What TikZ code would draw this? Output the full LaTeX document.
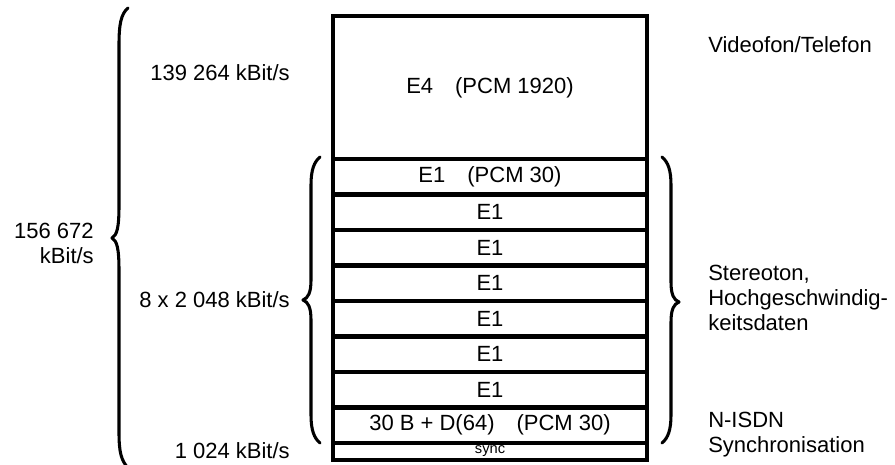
\documentclass[tikz,border=0pt]{standalone}
\usepackage{fontspec}
\setmainfont{Liberation Sans}
\begin{document}
\begin{tikzpicture}[x=0.75pt, y=-0.75pt,
  txt/.style={inner sep=0pt, font=\fontsize{16.5}{18.75}\selectfont},
  row/.style={draw, line width=3pt, inner sep=0pt, minimum width=235.5pt,
              font=\fontsize{16.5}{18.75}\selectfont},
  bracestroke/.style={line width=2.3pt, line cap=round, line join=round}]
\useasboundingbox (0,0) rectangle (895,464);

% frame rows, top to bottom
\node[row, minimum height=107.25pt] (e4) at (490,87.5) {E4\quad(PCM 1920)};
\node[row, minimum height=26.6pt] (r1) at (490,176.75) {E1\quad(PCM 30)};
\node[row, minimum height=26.6pt] (r2) at (490,212.25) {E1};
\node[row, minimum height=26.6pt] (r3) at (490,247.75) {E1};
\node[row, minimum height=26.6pt] (r4) at (490,283.25) {E1};
\node[row, minimum height=26.6pt] (r5) at (490,318.75) {E1};
\node[row, minimum height=26.6pt] (r6) at (490,354.25) {E1};
\node[row, minimum height=26.6pt] (r7) at (490,389.75) {E1};
\node[row, minimum height=26.6pt] (r8) at (490,425.25) {30 B + D(64)\quad(PCM 30)};
\node[row, minimum height=13pt, font=\fontsize{11}{12}\selectfont] (sy) at (490,451.5) {sync};

% outer brace (total rate)
\draw[bracestroke] (128,8) .. controls (121,14) and (119,24) .. (119,45)
  -- (119,205) .. controls (119,228) and (117,235) .. (112,238)
  .. controls (117,241) and (119,248) .. (119,271)
  -- (119,432) .. controls (119,452) and (121,460) .. (128,468);

% inner left brace (8 x E1)
\draw[bracestroke] (320,157) .. controls (314,162) and (311,170) .. (311,185)
  -- (311,280) .. controls (311,293) and (308,298) .. (303,300)
  .. controls (308,302) and (311,307) .. (311,320)
  -- (311,415) .. controls (311,430) and (314,438) .. (320,443);

% right brace (8 x E1)
\draw[bracestroke] (662,157) .. controls (668,162) and (671,170) .. (671,185)
  -- (671,282) .. controls (671,295) and (674,300) .. (679,302)
  .. controls (674,304) and (671,309) .. (671,322)
  -- (671,415) .. controls (671,430) and (668,438) .. (662,443);

% rates
\node[txt, anchor=east, align=right] (total) at (94,243) {156 672\\kBit/s};
\node[txt, anchor=east] (rE4) at (290,73) {139 264 kBit/s};
\node[txt, anchor=east] (rE1) at (290,300) {8 x 2 048 kBit/s};
\node[txt, anchor=east] (rSy) at (290,451) {1 024 kBit/s};

% services
\node[txt, anchor=west] (svc1) at (708,45) {Videofon/Telefon};
\node[txt, anchor=west, align=left] (svc2) at (708,298) {Stereoton,\\Hochgeschwindig-\\keitsdaten};
\node[txt, anchor=west, align=left] (svc3) at (708,435) {N-ISDN\\Synchronisation};
\end{tikzpicture}
\end{document}
